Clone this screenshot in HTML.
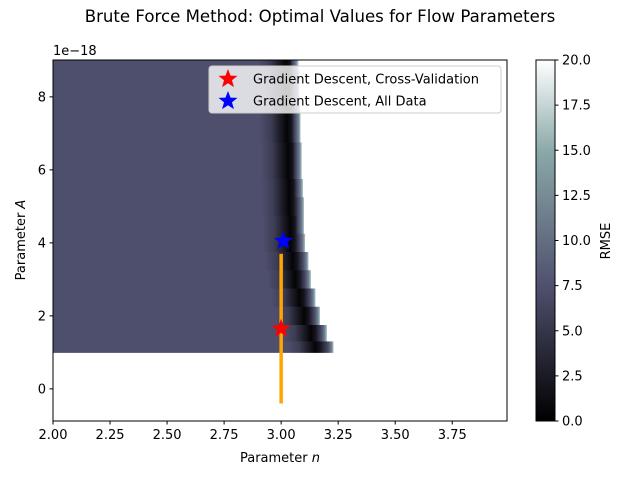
<!DOCTYPE html>
<html><head><meta charset="utf-8"><style>
body{margin:0;background:#fff;font-family:"Liberation Sans","DejaVu Sans",sans-serif}
svg text{font-family:"DejaVu Sans","Liberation Sans",sans-serif;font-size:13px;fill:#000}
</style></head><body>
<svg id="c" width="640" height="480" xmlns="http://www.w3.org/2000/svg">
<defs>
<linearGradient id="bone" x1="0" y1="1" x2="0" y2="0">
<stop offset="0" stop-color="#000000"/><stop offset="0.365" stop-color="#4e4e6d"/><stop offset="0.746" stop-color="#8aa8a8"/><stop offset="1" stop-color="#ffffff"/>
</linearGradient>
<clipPath id="clip"><rect x="53" y="60" width="454" height="361"/></clipPath>
</defs>
<g id="heat" clip-path="url(#clip)"></g>
<g id="marks"></g>
<g id="axes"></g>
</svg>
<script>
const aRows=[9,8.5,8,7.5,7,6.5,6,5.5,5,4.5,4,3.5,3,2.5,2,1.5,1.1];
const valleyN=[3.02,3.02,3.02,3.025,3.025,3.03,3.03,3.035,3.035,3.04,3.04,3.05,3.06,3.08,3.1,3.13,3.15];
const edgeN=[3.075,3.08,3.08,3.085,3.085,3.09,3.09,3.095,3.1,3.1,3.105,3.12,3.13,3.15,3.17,3.2,3.23];
const baseVal=7;
const xTicks=[2.00,2.25,2.50,2.75,3.00,3.25,3.50,3.75];
const yTicks=[0,2,4,6,8];
const cbTicks=[0,2.5,5,7.5,10,12.5,15,17.5,20];
const stars=[{n:3.0,a:1.65,color:"red",label:"Gradient Descent, Cross-Validation"},{n:3.01,a:4.05,color:"blue",label:"Gradient Descent, All Data"}];
const errN=3.0, errLo=-0.4, errHi=3.7;
const X0=53,X1=507,Y0=60,Y1=421,xmin=2,xmax=3.99,ymin=-0.88,ymax=9.01;
const sx=v=>X0+(v-xmin)/(xmax-xmin)*(X1-X0);
const sy=v=>Y1-(v-ymin)/(ymax-ymin)*(Y1-Y0);
const NS="http://www.w3.org/2000/svg";
function mk(tag,at,parent){const e=document.createElementNS(NS,tag);for(const k in at)e.setAttribute(k,at[k]);parent.appendChild(e);return e;}
const svg=document.getElementById('c'),defs=svg.querySelector('defs');
const heat=document.getElementById('heat'),marks=document.getElementById('marks'),axes=document.getElementById('axes');
function bone(v){const t=Math.max(0,Math.min(1,v/20));
 const r=t<0.746?t*0.652/0.746:0.652+(t-0.746)/0.254*0.348;
 const g=t<0.365?t*0.319/0.365:(t<0.746?0.319+(t-0.365)/0.381*0.463:0.782+(t-0.746)/0.254*0.218);
 const b=t<0.365?t*0.444/0.365:0.444+(t-0.365)/0.635*0.556;
 return `rgb(${Math.round(r*255)},${Math.round(g*255)},${Math.round(b*255)})`;}
const xmaxData=edgeN[edgeN.length-1];
aRows.forEach((a,i)=>{
 const top=i===0?ymax:(aRows[i-1]+a)/2, bot=i===aRows.length-1?1:(a+aRows[i+1])/2;
 const gid='g'+i;const lg=mk('linearGradient',{id:gid,x1:sx(2),x2:sx(xmaxData),y1:0,y2:0,gradientUnits:'userSpaceOnUse'},defs);
 const L=sx(xmaxData)-sx(2);const off=n=>Math.max(0,Math.min(1,(sx(n)-sx(2))/L));
 const c=valleyN[i],e=edgeN[i];
 [[2,baseVal],[c-0.12,baseVal],[c-0.07,5.5],[c-0.03,2.5],[c,0.4],[c+0.02,1.8],[e-0.025,6.5],[e-0.01,10],[e,15],[e+0.001,20],[xmaxData,20]].forEach(([n,v])=>mk('stop',{offset:off(n),'stop-color':bone(v),'stop-opacity':n>e?0:1},lg));
 const r=mk('rect',{x:sx(2),y:sy(top),width:L,height:sy(bot)-sy(top)+0.5,fill:`url(#${gid})`},heat);
 
 
});
const el=mk('line',{x1:sx(errN),x2:sx(errN),y1:sy(errHi),y2:sy(errLo),stroke:'orange','stroke-width':3.5},marks);


function star(cx,cy,R,color,parent){let p='';for(let k=0;k<10;k++){const r=k%2?R*0.42:R;const ang=-Math.PI/2+k*Math.PI/5;p+=(k?'L':'M')+(cx+r*Math.cos(ang)).toFixed(1)+','+(cy+r*Math.sin(ang)).toFixed(1);}return mk('path',{d:p+'Z',fill:color},parent);}
stars.forEach(s=>{const p=star(sx(s.n),sy(s.a),10,s.color,marks);
 
 });
mk('rect',{x:X0,y:Y0,width:X1-X0,height:Y1-Y0,fill:'none',stroke:'#000','stroke-width':1},axes);
xTicks.forEach(t=>{const x=sx(t);mk('line',{x1:x,x2:x,y1:Y1,y2:Y1+3.5,stroke:'#000'},axes);const tx=mk('text',{x:x,y:Y1+18,'text-anchor':'middle'},axes);tx.textContent=t.toFixed(2);
 
 });
yTicks.forEach(t=>{const y=sy(t);mk('line',{x1:X0-3.5,x2:X0,y1:y,y2:y,stroke:'#000'},axes);const tx=mk('text',{x:X0-7,y:y+4.5,'text-anchor':'end'},axes);tx.textContent=t;
 
 });
let t=mk('text',{x:53,y:55},axes);t.textContent='1e\u221218';
t=mk('text',{x:280,y:462,'text-anchor':'middle'},axes);t.innerHTML='Parameter <tspan font-style="italic">n</tspan>';

t=mk('text',{x:0,y:0,'text-anchor':'middle',transform:'translate(25,240) rotate(-90)'},axes);t.innerHTML='Parameter <tspan font-style="italic">A</tspan>';

t=mk('text',{x:320,y:22,'text-anchor':'middle',style:'font-size:16.6px'},axes);t.textContent='Brute Force Method: Optimal Values for Flow Parameters';

const lg=mk('g',{},axes);
mk('rect',{x:209,y:66,width:292,height:47,rx:3,fill:'#fff','fill-opacity':0.8,stroke:'#ccc'},lg);
stars.forEach((s,i)=>{const y=79+i*22;star(228,y,10,s.color,lg);const tx=mk('text',{x:253,y:y+4.5},lg);tx.textContent=s.label;
 
 });
const CX=536,CW=19;
const cb=mk('rect',{x:CX,y:Y0,width:CW,height:Y1-Y0,fill:'url(#bone)',stroke:'#000'},axes);

cbTicks.forEach(v=>{const y=Y1-v/20*(Y1-Y0);mk('line',{x1:CX+CW,x2:CX+CW+3.5,y1:y,y2:y,stroke:'#000'},axes);const tx=mk('text',{x:CX+CW+7,y:y+4.5},axes);tx.textContent=v.toFixed(1);
 
 });
t=mk('text',{x:0,y:0,'text-anchor':'middle',transform:'translate(610,241) rotate(-90)'},axes);t.textContent='RMSE';

</script>
</body></html>
